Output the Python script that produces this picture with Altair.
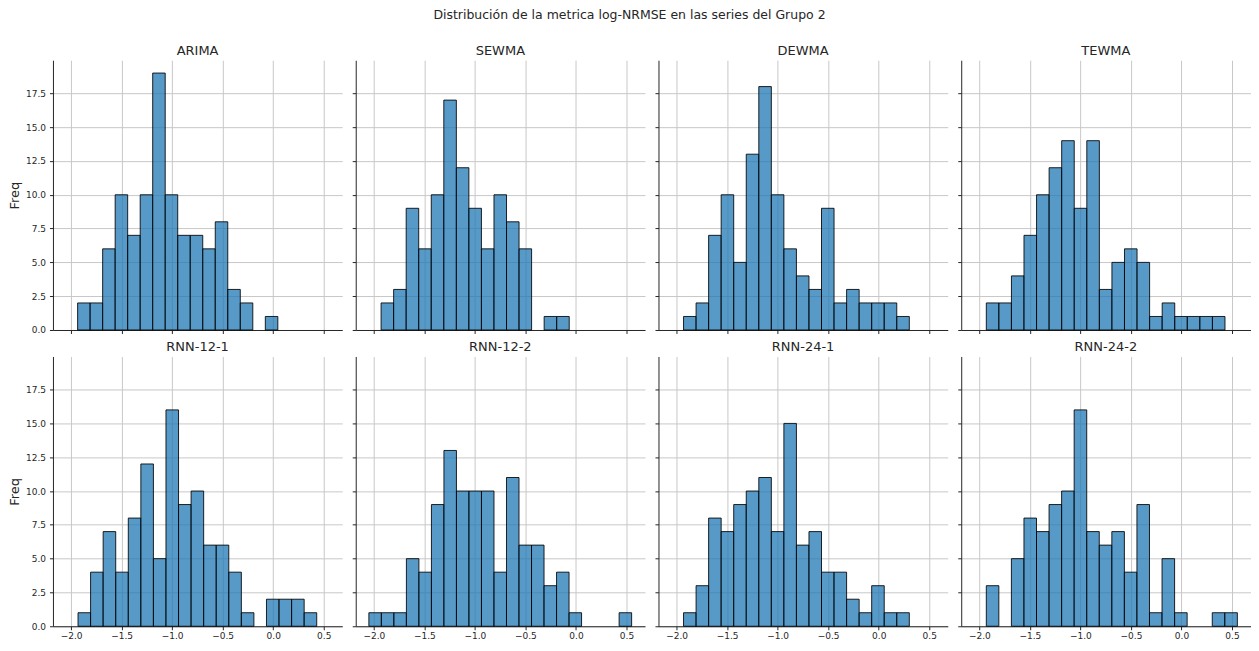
import altair as alt
import pandas as pd

# ---- data ----
models = ["ARIMA", "SEWMA", "DEWMA", "TEWMA",
          "RNN-12-1", "RNN-12-2", "RNN-24-1", "RNN-24-2"]

# left edge of the first bin and bin width for each model (log-NRMSE units)
bin_starts = [-1.935, -1.928, -1.931, -1.931, -1.931, -2.049, -1.931, -1.931]
bin_widths = [0.1238, 0.1241, 0.1241, 0.1243, 0.1243, 0.1238, 0.1241, 0.1242]

counts_arima = [2, 2, 6, 10, 7, 10, 19, 10, 7, 7, 6, 8, 3, 2, 0, 1]
counts_sewma = [2, 3, 9, 6, 10, 17, 12, 9, 6, 10, 8, 6, 0, 1, 1]
counts_dewma = [1, 2, 7, 10, 5, 13, 18, 10, 6, 4, 3, 9, 2, 3, 2, 2, 2, 1]
counts_tewma = [2, 2, 4, 7, 10, 12, 14, 9, 14, 3, 5, 6, 5, 1, 2, 1, 1, 1, 1]
counts_rnn_12_1 = [1, 4, 7, 4, 8, 12, 5, 16, 9, 10, 6, 6, 4, 1, 0, 2, 2, 2, 1]
counts_rnn_12_2 = [1, 1, 1, 5, 4, 9, 13, 10, 10, 10, 4, 11, 6, 6, 3, 4, 1, 0, 0, 0, 1]
counts_rnn_24_1 = [1, 3, 8, 7, 9, 10, 11, 7, 15, 6, 7, 4, 4, 2, 1, 3, 1, 1]
counts_rnn_24_2 = [3, 0, 5, 8, 7, 9, 10, 16, 7, 6, 7, 4, 9, 1, 5, 1, 0, 0, 1, 1]

all_counts = [counts_arima, counts_sewma, counts_dewma, counts_tewma,
              counts_rnn_12_1, counts_rnn_12_2, counts_rnn_24_1, counts_rnn_24_2]

x_ticks = [-2.0, -1.5, -1.0, -0.5, 0.0, 0.5]
y_ticks = [0.0, 2.5, 5.0, 7.5, 10.0, 12.5, 15.0, 17.5]
x_domain = [-2.179, 0.683]
y_domain = [0, 19.95]

main_title = "Distribución de la metrica log-NRMSE en las series del Grupo 2"

# ---- table ----
rows = []
for m, s, w, cs in zip(models, bin_starts, bin_widths, all_counts):
    for i, c in enumerate(cs):
        if c > 0:
            rows.append({"model": m, "bin_start": s + i * w,
                         "bin_end": s + (i + 1) * w, "count": c, "base": 0})
df = pd.DataFrame(rows)

FONT = "DejaVu Sans"
TXT = "#262626"

panels = []
for i, m in enumerate(models):
    r, c = divmod(i, 4)
    xaxis = alt.Axis(values=x_ticks, format=".1f", labels=(r == 1), title=None,
                     grid=True, ticks=True, domain=True)
    if c == 0:
        yaxis = alt.Axis(values=y_ticks, format=".1f", labels=True, title="Freq",
                         grid=True, ticks=True, domain=True)
    else:
        yaxis = alt.Axis(values=y_ticks, format=".1f", labels=False, title=None,
                         grid=True, ticks=True, domain=True)
    p = (
        alt.Chart(df)
        .transform_filter(alt.datum.model == m)
        .mark_bar(fill="#1f77b4", fillOpacity=0.75, stroke="#000000",
                  strokeWidth=1, strokeOpacity=0.85)
        .encode(
            x=alt.X("bin_start:Q", scale=alt.Scale(domain=x_domain, nice=False, zero=False),
                    axis=xaxis),
            x2="bin_end:Q",
            y=alt.Y("count:Q", scale=alt.Scale(domain=y_domain, nice=False), axis=yaxis),
            y2="base:Q",
        )
        .properties(
            width=289.5, height=270,
            title=alt.TitleParams(text=m, frame="group", anchor="middle", fontSize=13,
                                  font=FONT, fontWeight="normal", color=TXT, offset=2),
        )
    )
    panels.append(p)

chart = (
    alt.concat(*panels, columns=4, spacing={"row": 26.5, "column": 13}, bounds="flush")
    .properties(
        title=alt.TitleParams(text=main_title, anchor="middle", fontSize=12.5, font=FONT,
                              fontWeight="normal", color=TXT, offset=24),
        padding={"left": 0, "top": 0, "right": 0, "bottom": 0},
    )
    .configure(font=FONT)
    .configure_view(stroke=None)
    .configure_axis(
        gridColor="#c8c8c8", gridWidth=1,
        domainColor="#262626", domainWidth=1,
        tickColor="#262626", tickSize=3.5, tickWidth=1,
        labelFont=FONT, labelFontSize=9, labelColor=TXT, labelPadding=1.5,
        titleFont=FONT, titleFontSize=13, titleFontWeight="normal", titleColor=TXT,
        titlePadding=4,
    )
    .configure_axisY(labelPadding=4)
)

chart.save("out.html", embed_options={"renderer": "svg", "actions": False})
